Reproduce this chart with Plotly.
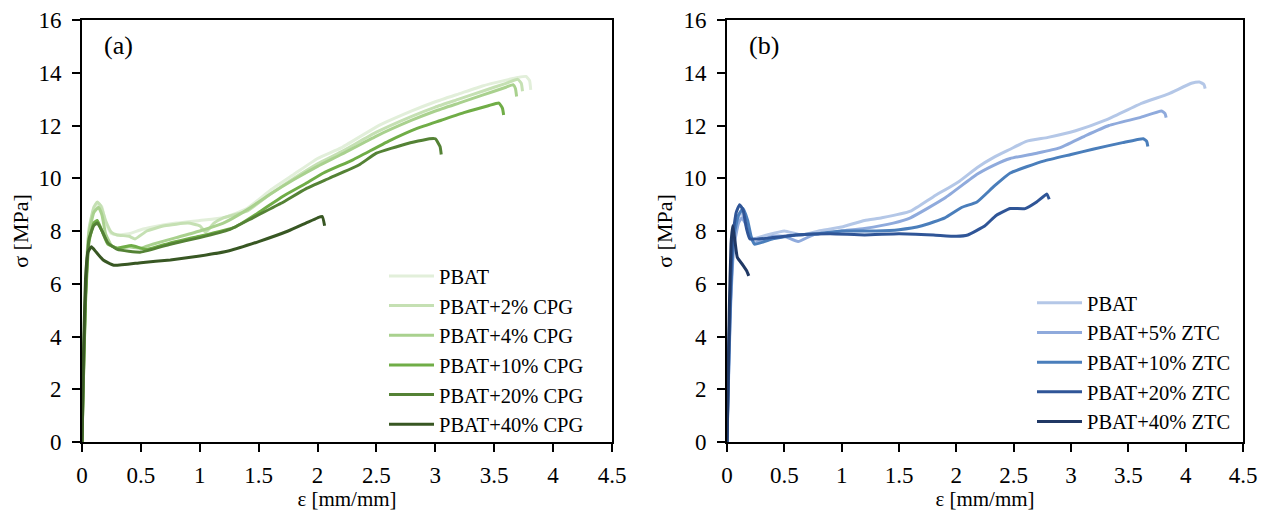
import plotly.graph_objects as go

# ---------------- Panel (a): PBAT + CPG ----------------
a_names = ["PBAT", "PBAT+2% CPG", "PBAT+4% CPG", "PBAT+10% CPG", "PBAT+20% CPG", "PBAT+40% CPG"]
a_colors = ["#e2efda", "#c5e0b3", "#a9d18e", "#70ad47", "#548235", "#385723"]

a_pbat_x = [0, 0.01, 0.03, 0.06, 0.1, 0.14, 0.17, 0.2, 0.25, 0.3, 0.4, 0.5, 0.6, 0.8, 1.0, 1.2, 1.4, 1.6, 1.8, 2.0, 2.2, 2.5, 2.8, 3.0, 3.2, 3.4, 3.6, 3.7, 3.77, 3.8, 3.81]
a_pbat_y = [0, 2.5, 6.0, 8.0, 8.8, 9.05, 8.9, 8.3, 7.9, 7.85, 7.9, 8.05, 8.15, 8.3, 8.4, 8.5, 8.85, 9.55, 10.15, 10.75, 11.15, 11.95, 12.55, 12.9, 13.2, 13.5, 13.72, 13.82, 13.86, 13.7, 13.35]

a_2_x = [0, 0.01, 0.03, 0.06, 0.1, 0.13, 0.16, 0.2, 0.25, 0.3, 0.4, 0.45, 0.55, 0.7, 0.9, 1.0, 1.05, 1.12, 1.2, 1.4, 1.6, 1.8, 2.0, 2.2, 2.5, 2.8, 3.0, 3.2, 3.4, 3.6, 3.7, 3.73, 3.74]
a_2_y = [0, 2.2, 5.8, 8.1, 8.9, 9.1, 8.95, 8.4, 7.95, 7.85, 7.8, 7.7, 8.0, 8.2, 8.3, 8.2, 7.95, 8.3, 8.5, 8.75, 9.4, 10.0, 10.55, 11.0, 11.75, 12.35, 12.7, 13.0, 13.3, 13.6, 13.75, 13.6, 13.3]

a_4_x = [0, 0.01, 0.03, 0.06, 0.1, 0.14, 0.17, 0.2, 0.25, 0.3, 0.4, 0.5, 0.6, 0.8, 1.0, 1.2, 1.4, 1.6, 1.8, 2.0, 2.2, 2.5, 2.8, 3.0, 3.2, 3.4, 3.6, 3.66, 3.68, 3.69]
a_4_y = [0, 2.0, 5.5, 7.9, 8.7, 8.9, 8.6, 7.9, 7.45, 7.35, 7.4, 7.35, 7.5, 7.75, 8.0, 8.3, 8.8, 9.4, 9.95, 10.45, 10.9, 11.6, 12.2, 12.55, 12.85, 13.15, 13.45, 13.55, 13.4, 13.1]

a_10_x = [0, 0.01, 0.03, 0.06, 0.1, 0.13, 0.17, 0.22, 0.3, 0.42, 0.55, 0.75, 1.0, 1.3, 1.5, 1.7, 1.9, 2.05, 2.3, 2.6, 2.85, 3.05, 3.25, 3.45, 3.54, 3.57, 3.58]
a_10_y = [0, 2.0, 5.3, 7.6, 8.3, 8.4, 8.0, 7.5, 7.35, 7.45, 7.3, 7.55, 7.8, 8.15, 8.7, 9.3, 9.8, 10.2, 10.7, 11.4, 11.9, 12.2, 12.5, 12.75, 12.85, 12.65, 12.4]

a_20_x = [0, 0.01, 0.03, 0.06, 0.1, 0.13, 0.17, 0.22, 0.3, 0.5, 0.75, 1.0, 1.25, 1.45, 1.69, 1.9, 2.1, 2.35, 2.5, 2.75, 2.95, 3.0, 3.04, 3.05]
a_20_y = [0, 2.2, 5.6, 7.7, 8.2, 8.3, 8.0, 7.55, 7.3, 7.2, 7.5, 7.75, 8.05, 8.5, 9.05, 9.6, 10.0, 10.5, 10.95, 11.3, 11.5, 11.5, 11.2, 10.9]

a_40_x = [0, 0.01, 0.03, 0.05, 0.08, 0.12, 0.18, 0.27, 0.5, 0.75, 1.0, 1.25, 1.5, 1.75, 1.9, 2.0, 2.04, 2.06]
a_40_y = [0, 2.8, 6.2, 7.2, 7.4, 7.2, 6.9, 6.7, 6.8, 6.9, 7.05, 7.25, 7.6, 8.0, 8.3, 8.5, 8.55, 8.2]

# ---------------- Panel (b): PBAT + ZTC ----------------
b_names = ["PBAT", "PBAT+5% ZTC", "PBAT+10% ZTC", "PBAT+20% ZTC", "PBAT+40% ZTC"]
b_colors = ["#b4c7e7", "#8faadc", "#4a7ebb", "#2f5597", "#203864"]

b_pbat_x = [0, 0.01, 0.03, 0.06, 0.09, 0.12, 0.15, 0.18, 0.22, 0.35, 0.5, 0.65, 0.8, 1.0, 1.2, 1.35, 1.6, 1.8, 2.03, 2.18, 2.33, 2.47, 2.61, 2.8, 3.04, 3.3, 3.62, 3.85, 4.05, 4.12, 4.16, 4.17]
b_pbat_y = [0, 2.0, 5.2, 7.6, 8.4, 8.7, 8.5, 8.0, 7.7, 7.85, 8.0, 7.85, 8.0, 8.15, 8.4, 8.5, 8.75, 9.3, 9.9, 10.4, 10.8, 11.1, 11.4, 11.55, 11.8, 12.2, 12.85, 13.2, 13.6, 13.65, 13.55, 13.4]

b_5_x = [0, 0.01, 0.03, 0.06, 0.1, 0.13, 0.17, 0.2, 0.24, 0.4, 0.5, 0.62, 0.75, 1.0, 1.2, 1.45, 1.6, 1.9, 2.18, 2.33, 2.47, 2.7, 2.9, 3.12, 3.33, 3.6, 3.79, 3.82, 3.83]
b_5_y = [0, 1.8, 5.0, 7.4, 8.3, 8.5, 8.2, 7.8, 7.55, 7.8, 7.8, 7.6, 7.85, 8.0, 8.1, 8.3, 8.5, 9.25, 10.15, 10.5, 10.75, 10.95, 11.15, 11.6, 12.0, 12.3, 12.55, 12.45, 12.3]

b_10_x = [0, 0.01, 0.03, 0.06, 0.1, 0.14, 0.18, 0.21, 0.24, 0.4, 0.6, 0.8, 1.0, 1.3, 1.5, 1.7, 1.9, 2.05, 2.18, 2.33, 2.47, 2.76, 3.0, 3.19, 3.45, 3.63, 3.66, 3.67]
b_10_y = [0, 2.0, 5.3, 7.8, 8.6, 8.85, 8.4, 7.8, 7.5, 7.7, 7.85, 7.9, 8.0, 8.0, 8.05, 8.2, 8.5, 8.9, 9.1, 9.7, 10.2, 10.65, 10.9, 11.1, 11.35, 11.5, 11.4, 11.2]

b_20_x = [0, 0.01, 0.03, 0.05, 0.08, 0.11, 0.14, 0.17, 0.2, 0.4, 0.6, 0.9, 1.2, 1.5, 1.8, 2.0, 2.1, 2.25, 2.35, 2.47, 2.6, 2.7, 2.79, 2.81]
b_20_y = [0, 2.3, 5.8, 7.8, 8.7, 9.0, 8.8, 8.1, 7.7, 7.75, 7.85, 7.9, 7.85, 7.9, 7.85, 7.8, 7.85, 8.2, 8.6, 8.85, 8.85, 9.1, 9.4, 9.2]

b_40_x = [0, 0.01, 0.02, 0.035, 0.05, 0.07, 0.09, 0.14, 0.17, 0.19]
b_40_y = [0, 2.5, 5.0, 7.5, 8.2, 7.6, 7.0, 6.7, 6.5, 6.3]

a_series = [(a_pbat_x, a_pbat_y), (a_2_x, a_2_y), (a_4_x, a_4_y), (a_10_x, a_10_y), (a_20_x, a_20_y), (a_40_x, a_40_y)]
b_series = [(b_pbat_x, b_pbat_y), (b_5_x, b_5_y), (b_10_x, b_10_y), (b_20_x, b_20_y), (b_40_x, b_40_y)]

x_ticks = [0, 0.5, 1, 1.5, 2, 2.5, 3, 3.5, 4, 4.5]
x_ticklabels = ["0", "0.5", "1", "1.5", "2", "2.5", "3", "3.5", "4", "4.5"]
y_ticks = [0, 2, 4, 6, 8, 10, 12, 14, 16]

FONT = "Liberation Serif, Times New Roman, serif"
TICK_FS = 23
TITLE_FS = 21
LEG_FS = 20.5
PANEL_FS = 26

fig = go.Figure()
for (xs, ys), name, col in zip(a_series, a_names, a_colors):
    fig.add_trace(go.Scatter(x=xs, y=ys, name=name, mode="lines",
                             line=dict(color=col, width=3, shape="spline", smoothing=0.4),
                             xaxis="x", yaxis="y", legend="legend"))
for (xs, ys), name, col in zip(b_series, b_names, b_colors):
    fig.add_trace(go.Scatter(x=xs, y=ys, name=name, mode="lines",
                             line=dict(color=col, width=3, shape="spline", smoothing=0.4),
                             xaxis="x2", yaxis="y2", legend="legend2"))

axis_common = dict(showline=True, linecolor="black", linewidth=2, mirror=True,
                   ticks="outside", ticklen=8, tickwidth=2, tickcolor="black",
                   showgrid=False, zeroline=False, automargin=False,
                   tickfont=dict(family=FONT, size=TICK_FS, color="black"))

# page body has an 8px margin, so the figure is sized to fit the 1279x511 window
W, H = 1271, 503
ml, mr, mt, mb = 74, 36, 12, 69
pw = W - ml - mr
d1 = [0, (612 - 82) / pw]
d2 = [(727 - 82) / pw, 1]

fig.update_layout(
    width=W, height=H,
    margin=dict(l=ml, r=mr, t=mt, b=mb),
    plot_bgcolor="white", paper_bgcolor="white",
    font=dict(family=FONT, size=TITLE_FS, color="black"),
    xaxis=dict(domain=d1, range=[0, 4.5], tickvals=x_ticks, ticktext=x_ticklabels, ticklabelstandoff=3,
               title=dict(text="ε [mm/mm]", font=dict(family=FONT, size=TITLE_FS), standoff=0), **axis_common),
    yaxis=dict(domain=[0, 1], range=[0, 16], tickvals=y_ticks, ticklabelstandoff=6,
               title=dict(text="σ [MPa]", font=dict(family=FONT, size=TITLE_FS + 1), standoff=5), **axis_common),
    xaxis2=dict(domain=d2, range=[0, 4.5], tickvals=x_ticks, ticktext=x_ticklabels, anchor="y2", ticklabelstandoff=3,
                title=dict(text="ε [mm/mm]", font=dict(family=FONT, size=TITLE_FS), standoff=0), **axis_common),
    yaxis2=dict(domain=[0, 1], range=[0, 16], tickvals=y_ticks, anchor="x2", ticklabelstandoff=6,
                title=dict(text="σ [MPa]", font=dict(family=FONT, size=TITLE_FS + 1), standoff=5), **axis_common),
    legend=dict(x=(384 - 82) / pw, xanchor="left", y=-0.005, yanchor="bottom",
                bgcolor="rgba(0,0,0,0)", font=dict(family=FONT, size=LEG_FS), itemwidth=45,
                tracegroupgap=0),
    legend2=dict(x=(1032 - 82) / pw, xanchor="left", y=0.0, yanchor="bottom",
                 bgcolor="rgba(0,0,0,0)", font=dict(family=FONT, size=LEG_FS), itemwidth=45,
                 tracegroupgap=0),
    annotations=[
        dict(text="(a)", xref="x domain", yref="y domain", x=0.038, y=0.94, xanchor="left",
             yanchor="middle", showarrow=False, font=dict(family=FONT, size=PANEL_FS)),
        dict(text="(b)", xref="x2 domain", yref="y2 domain", x=0.038, y=0.94, xanchor="left",
             yanchor="middle", showarrow=False, font=dict(family=FONT, size=PANEL_FS)),
    ],
)

fig.write_html("out.html")
